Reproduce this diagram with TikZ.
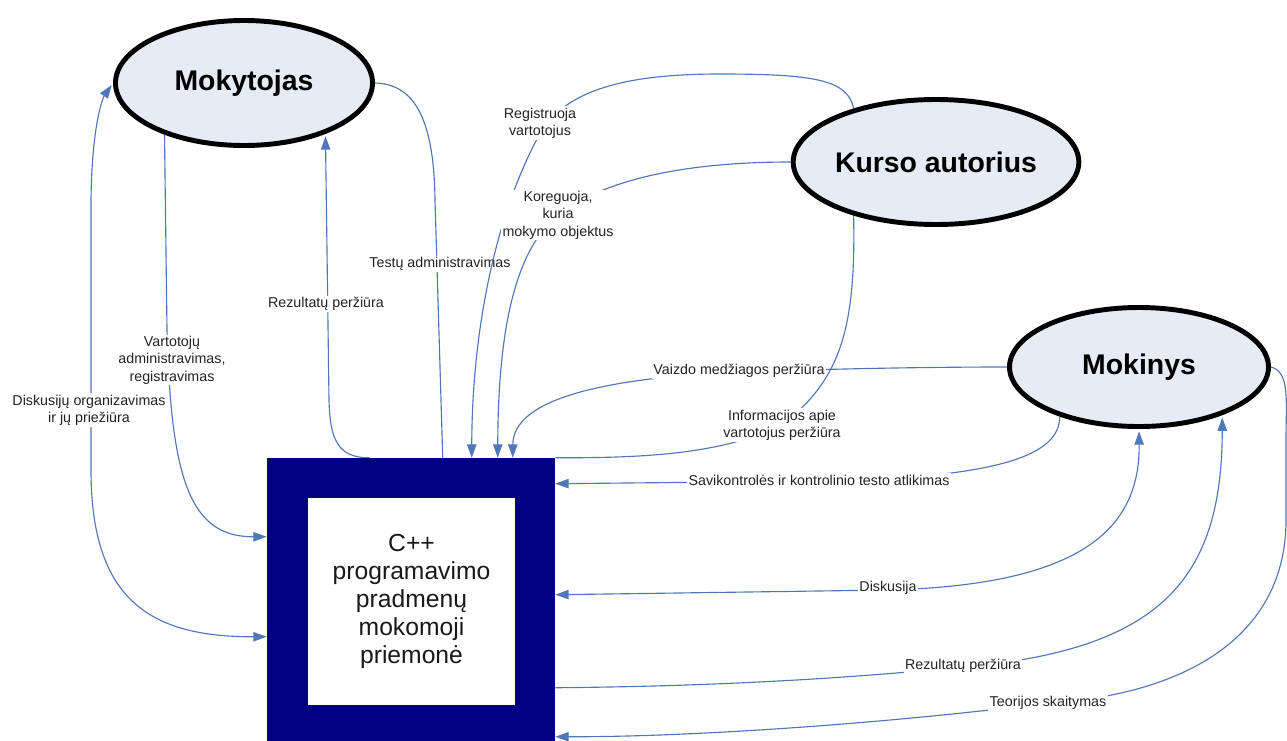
\documentclass[tikz,border=0pt]{standalone}
\usepackage{fontspec}
\setmainfont{Liberation Sans}
\usetikzlibrary{arrows.meta,calc,shapes.geometric}
\definecolor{navybox}{RGB}{0,0,128}
\definecolor{actorfill}{RGB}{230,236,246}
\definecolor{flow}{RGB}{79,119,185}
\definecolor{lbltext}{RGB}{35,35,35}
\pgfdeclarelayer{bg}
\pgfdeclarelayer{conn}
\pgfsetlayers{bg,conn,main}

\begin{document}
\begin{tikzpicture}[x=0.75pt,y=-0.75pt,
  actor/.style={ellipse, draw=black, line width=3.7pt, fill=actorfill, inner sep=0pt,
    font=\fontsize{21.3}{24}\selectfont\bfseries},
  flowline/.style={draw=flow, line width=0.85pt},
  arr/.style={-{Triangle[length=10pt,width=7pt]}},
  darr/.style={{Triangle[length=10pt,width=7pt]}-{Triangle[length=10pt,width=7pt]}},
  lbl/.style={fill=white, inner sep=1pt, align=center, text=lbltext,
    font=\fontsize{10.7}{13}\selectfont},
]
\path[use as bounding box] (0,0) rectangle (1287,740);
\clip (0,0) rectangle (1287,740);
\begin{pgfonlayer}{bg}
\fill[white] (0,0) rectangle (1287,740);
\end{pgfonlayer}

% actors
\node[actor, minimum width=192.75pt, minimum height=93.75pt] (mok) at (244,83) {Mokytojas};
\node[actor, minimum width=192pt, minimum height=93.75pt] (kur) at (936,162) {Kurso autorius};
\node[actor, minimum width=194.25pt, minimum height=89.25pt] (mkn) at (1139,367) {Mokinys};

% the system box: navy frame with white core
\node[rectangle, fill=navybox, inner sep=0pt, minimum width=216pt, minimum height=216pt] (sys) at (411,602) {};
\node[rectangle, fill=white, inner sep=0pt, minimum width=155.25pt, minimum height=155.25pt,
  align=center, font=\fontsize{18.5}{21}\selectfont, text={rgb,255:red,25;green,25;blue,25}] (core) at (411.5,601.5)
  {C++\\programavimo\\pradmenų\\mokomoji\\priemonė};

% attachment points on the box
\coordinate (tR) at ($(sys.north west)+(103,0)$);
\coordinate (tT) at ($(sys.north west)+(176,0)$);
\coordinate (t1) at ($(sys.north west)+(205,0)$);
\coordinate (t2) at ($(sys.north west)+(231,0)$);
\coordinate (t3) at ($(sys.north west)+(246,0)$);
\coordinate (tI) at (sys.north east);
\coordinate (l1) at ($(sys.north west)+(0,79)$);
\coordinate (l2) at ($(sys.north west)+(0,179)$);
\coordinate (r1) at ($(sys.north east)+(0,26)$);
\coordinate (r2) at ($(sys.north east)+(0,137)$);
\coordinate (r3) at ($(sys.north east)+(0,230)$);
\coordinate (r4) at ($(sys.north east)+(0,279)$);

\begin{pgfonlayer}{conn}
% Mokytojas
\draw[flowline] (mok.east) .. controls (415,84) and (434,120) .. (435,200) -- (tT);
\node[lbl] (lTest) at (440,264) {Testų administravimas};

\draw[flowline, arr, shorten >=1.8pt] (tR) .. controls (338,458) and (330,440) .. (329,400) -- (mok.328);
\node[lbl] (lRezA) at (326,304) {Rezultatų peržiūra};

\draw[flowline, arr] (mok.213) -- (167,330) .. controls (171,480) and (190,537) .. (l1);
\node[lbl] (lVart) at (172,360) {Vartotojų\\administravimas,\\registravimas};

\draw[flowline, darr, shorten <=1.8pt] (mok.west) .. controls (104,96) and (92,120) .. (91,200)
  -- (91,470) .. controls (91,600) and (150,637) .. (l2);
\node[lbl] (lDisk) at (89,410) {Diskusijų organizavimas\\ir jų priežiūra};

% Kurso autorius
\draw[flowline, arr] (kur.147) .. controls (848,80) and (815,74) .. (720,74)
  .. controls (620,74) and (572,92) .. (545,125) .. controls (500,200) and (472,320) .. (t1);
\node[lbl] (lReg) at (540,123) {Registruoja\\vartotojus};

\draw[flowline, arr] (kur.west) .. controls (700,162) and (610,175) .. (558,215)
  .. controls (515,250) and (498,330) .. (t2);
\node[lbl] (lKor) at (558,215) {Koreguoja,\\kuria\\mokymo objektus};

% Mokinys
\draw[flowline, arr] (mkn.west) .. controls (900,367) and (800,370) .. (740,372)
  .. controls (600,378) and (513,400) .. (t3);
\node[lbl] (lVaiz) at (739,371) {Vaizdo medžiagos peržiūra};

\draw[flowline] (kur.213) .. controls (856,330) and (840,380) .. (782,425)
  .. controls (720,455) and (640,458) .. (tI);
\node[lbl] (lInfo) at (782,425) {Informacijos apie\\vartotojus peržiūra};

\draw[flowline, arr] (mkn.212) .. controls (1060,455) and (1000,478) .. (819,481) -- (r1);
\node[lbl] (lSav) at (819,480) {Savikontrolės ir kontrolinio testo atlikimas};

\draw[flowline, darr, shorten >=1.8pt] (r2) -- (888,590) .. controls (1080,585) and (1140,530) .. (mkn.south);
\node[lbl] (lDis) at (888,588) {Diskusija};

\draw[flowline, arr, shorten >=1.8pt] (r3) .. controls (750,686) and (880,675) .. (963,667)
  .. controls (1160,650) and (1222,580) .. (mkn.330);
\node[lbl] (lRezB) at (963,666) {Rezultatų peržiūra};

\draw[flowline, arr] (mkn.east) .. controls (1290,372) and (1286,400) .. (1286,440) -- (1286,520)
  .. controls (1286,640) and (1180,695) .. (1048,703) .. controls (900,722) and (700,737) .. (r4);
\node[lbl] (lTeo) at (1048,703) {Teorijos skaitymas};
\end{pgfonlayer}
\end{tikzpicture}
\end{document}
